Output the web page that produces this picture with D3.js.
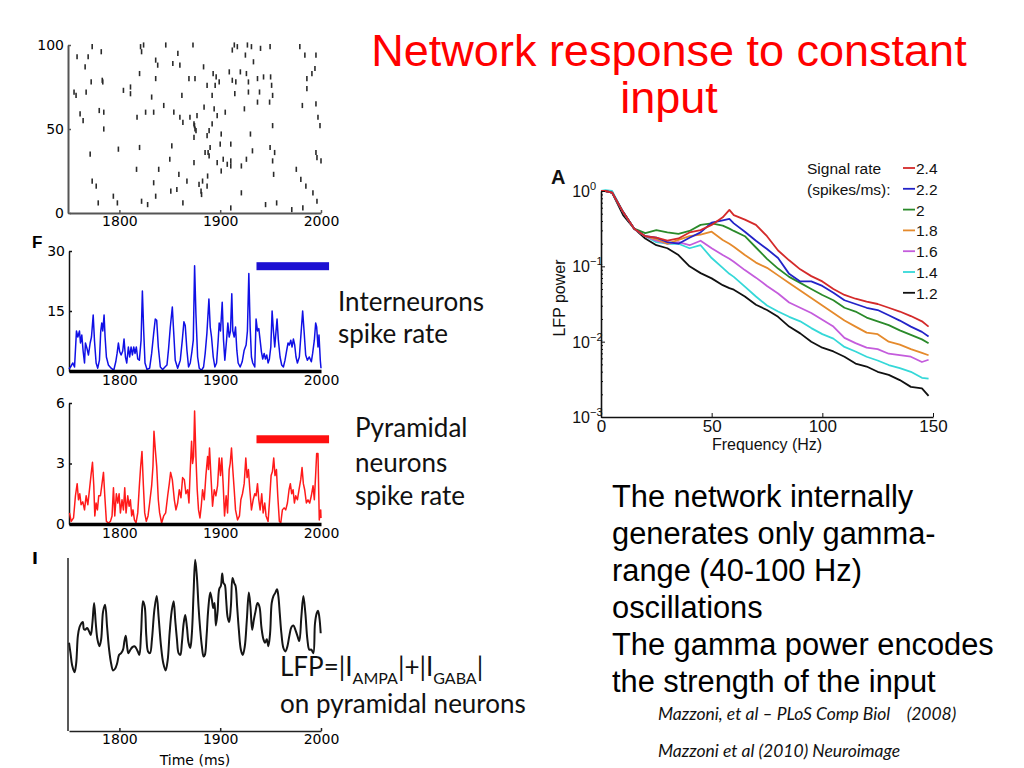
<!DOCTYPE html>
<html><head><meta charset="utf-8">
<script src="https://cdn.jsdelivr.net/npm/d3@7"></script>
<style>body{margin:0;background:#fff;} svg{display:block}</style>
</head><body><svg id="c" width="1024" height="768"></svg>
<script>
// ---------------- DATA ----------------
const timeTicks = [1800, 1900, 2000];
const rasterTicks = [0, 50, 100];
const interTicks = [0, 15, 30];
const pyrTicks = [0, 3, 6];

// raster spikes: [time ms, neuron index]
const spikes = [[1755,72],[1757,70],[1758,93],[1761,59],[1764,55],[1766,87],[1767,72],[1769,93],[1772,78],[1773,99],[1771,35],[1773,19],[1777,16],[1779,6],[1780,61],[1782,96],[1783,79],[1783.5,78],[1784.5,60],[1784.5,50],[1794,10],[1798,6],[1799,38],[1804,73],[1811,75],[1811,71],[1817.5,57],[1817,26],[1820,83],[1820,39],[1821,99],[1822,96],[1822,7],[1826,60],[1828,5],[1824,100],[1832,69],[1834,60],[1834,18],[1836,91],[1836,80],[1836,10],[1838,88],[1839,26],[1844,64],[1846,100],[1850,32],[1851,13],[1852,40],[1853,89],[1854,60],[1857,14],[1858,95],[1859,23],[1860,88],[1860,57],[1862,70],[1863,54],[1863,6],[1867,19],[1869,80],[1870,57],[1873,100],[1874,53],[1874.5,52],[1875,50],[1876,49],[1874,45],[1875,80],[1874,30],[1877,58],[1879,17],[1881,13],[1881.5,11],[1882.5,19],[1883.5,87],[1884,63],[1885,36],[1887,46],[1887,76],[1887.5,22],[1887,16],[1888,36],[1889,34],[1890,39],[1889,49],[1892,53],[1892,70],[1893,83],[1894,62],[1895,76],[1896,81],[1897,58],[1897,30],[1899,78],[1900,41],[1901,47],[1901,25],[1903,32],[1905,60],[1907,29],[1909,84],[1910.5,41],[1910.5,31],[1910.5,28],[1910.5,3],[1912,97],[1912,79],[1914,100],[1914.5,71],[1915.5,78],[1917,99],[1920,84],[1921,28],[1921,12],[1924,62],[1925,94],[1926,32],[1926,83],[1927,100],[1928,78],[1928,72],[1930,47],[1931,99],[1932,37],[1933,90],[1937,80],[1937,66],[1939,72],[1940,98],[1943,81],[1945,5],[1949,66],[1949.5,99],[1949.5,39],[1950,81],[1951,76],[1952,70],[1952,52],[1952,31],[1953,23],[1954,36],[1956,6],[1971,2],[1975.5,26],[1979,99],[1980,20],[1981.5,64],[1982,3],[1984,94],[1985,16],[1986,80],[1986,74],[1991,83],[1992,12],[1994,86],[1995,94],[1995,65],[1995,36],[1996,33],[1996,7],[1997,57],[1999,52],[2000,31]];

// interneuron spike rate: [time ms, rate]
const interRate = [[1750,0.5],[1751.5,1],[1753.8,2],[1755.5,1],[1757.4,10],[1758.8,8.5],[1760.4,10],[1761.4,7],[1762.7,9],[1764,5],[1765.4,2],[1766.3,7],[1768,5.5],[1769.3,4],[1771,7],[1772.3,8.5],[1774,14],[1775.3,7.5],[1776.9,2],[1778.5,0.7],[1780.2,2.7],[1781.5,10],[1782.5,12],[1783.5,10],[1784.8,14],[1785.8,8.5],[1787.1,3.5],[1789.1,1.5],[1791.8,0.7],[1794.4,0.2],[1796.4,2.3],[1797.7,4.4],[1799,7],[1800.3,4.8],[1801.7,4],[1803.3,5],[1804.6,8],[1806,3.5],[1807.3,2],[1808.9,6],[1810.2,3.5],[1811.6,6],[1812.9,4],[1814.2,6],[1815.5,4.4],[1816.8,6],[1818.2,3],[1819.8,2.7],[1821.5,7.7],[1822.8,20],[1824.1,10],[1825.4,2],[1827.4,0.4],[1830,0.7],[1832,4.4],[1834,9.4],[1835.6,13],[1837,12.7],[1838.6,6],[1840.6,1],[1842.9,0.4],[1845.2,1],[1847.2,1.5],[1848.8,5.6],[1850.5,11],[1852.5,16],[1853.8,10],[1855.4,2.7],[1857.8,0.7],[1860.4,2.7],[1862.4,7.7],[1864,12.3],[1865.3,11.4],[1867,5.2],[1868.6,1],[1870.3,2],[1871.9,4.8],[1873.3,7.7],[1874.6,26.3],[1875.9,14.3],[1877.6,3.5],[1879.2,0.7],[1881.5,0.2],[1883.5,1],[1885.1,4.4],[1886.8,9.4],[1888.8,18],[1890.1,11],[1891.4,8.5],[1893.1,3.5],[1894.7,1],[1896.4,2],[1898,7.7],[1899,12],[1900.3,10],[1902,17.2],[1903.3,7.7],[1904.6,2.7],[1906.3,7.7],[1907.6,12],[1908.9,8.5],[1910.2,10],[1911.5,19.3],[1912.5,10],[1913.9,8.5],[1915.2,11],[1916.5,5.2],[1917.8,2],[1919.8,1],[1921.8,2.3],[1923.8,5.2],[1925.7,6.5],[1927,10],[1928.4,24.4],[1929.7,11],[1931,3.5],[1932.3,2],[1934.3,1],[1935.6,13],[1937,10],[1938.3,10.6],[1939.6,7.7],[1940.9,4.8],[1942.2,3],[1943.6,4.4],[1944.9,3],[1946.2,4],[1947.5,2],[1948.8,3],[1950.2,6],[1951.5,15],[1952.8,10],[1954.1,6],[1955.4,10],[1956.4,13],[1957.7,7.7],[1959.4,3.5],[1961,1.5],[1962.7,1],[1964.3,2.7],[1966,5.2],[1967.3,7],[1968.6,6.5],[1970,7.7],[1971.3,6],[1972.6,8],[1973.9,6.5],[1975.2,3.5],[1976.6,2],[1978.5,3.5],[1980.2,9.4],[1981.8,15],[1983.2,10],[1984.8,4],[1986.5,2.7],[1988.4,3.5],[1990.4,2.3],[1991.7,4.4],[1993.4,7.7],[1994.7,12],[1995.7,11],[1997,6],[1998,9],[1999.3,2.7],[2000,0.7]];

// pyramidal spike rate: [time ms, rate]
const pyrRate = [[1750.5,0.55],[1752.2,0.13],[1754.5,0.3],[1756.4,1.4],[1758.1,2.0],[1759.4,1.2],[1760.7,1.5],[1762,0.96],[1763.7,1.1],[1765.4,0.7],[1767,1.4],[1768.7,0.96],[1770.3,1.7],[1772,2.5],[1773.3,3.06],[1774.6,1.9],[1775.6,0.4],[1776.9,1.04],[1778.2,0.7],[1779.5,1.4],[1781.2,1.4],[1782.5,1.9],[1784.2,2.56],[1785.5,1.4],[1787.1,0.13],[1789.1,0.05],[1791.1,0.13],[1792.7,0.4],[1794.1,1.8],[1795.4,0.4],[1797,1.5],[1798.4,1.04],[1799.7,1.5],[1801,0.55],[1802.6,1.2],[1804,0.7],[1805.3,1.8],[1806.6,0.55],[1808.3,1.4],[1809.6,0.88],[1810.9,1.2],[1812.2,0.4],[1813.5,0.7],[1814.9,0.2],[1816.5,0.05],[1818.2,0.55],[1819.8,1.9],[1821.1,2.86],[1822.4,3.6],[1823.8,1.9],[1825.1,0.55],[1826.7,0.13],[1828.4,0.4],[1830,1.04],[1832,1.9],[1833.3,2.86],[1834.3,4.6],[1835.6,3.7],[1837,2.86],[1838.6,1.2],[1839.9,0.55],[1841.9,0.05],[1843.9,0.4],[1845.9,0.55],[1847.9,1.4],[1849.5,2.0],[1850.8,2.56],[1852.5,2.2],[1854.5,1.2],[1856.1,0.7],[1857.8,1.04],[1859.4,1.7],[1861.1,1.3],[1862.7,2.3],[1864.4,2.2],[1866,1.5],[1867.7,1.7],[1869,1.04],[1870.3,2.7],[1871.6,4.1],[1872.6,3.0],[1873.6,3.35],[1874.6,5.6],[1875.9,3.35],[1877.2,1.7],[1878.5,0.7],[1879.9,0.3],[1881.2,0.88],[1882.5,1.7],[1884.2,1.2],[1885.8,2.4],[1887.5,3.35],[1888.4,2.7],[1889.4,3.77],[1890.8,2.4],[1892.4,0.88],[1894.1,1.7],[1895.7,1.4],[1897.4,1.9],[1899,3.27],[1900.3,2.4],[1901.6,3.27],[1903,1.9],[1904.3,0.4],[1905.9,1.4],[1907.3,0.55],[1908.9,2.7],[1909.9,3.0],[1911.2,3.77],[1912.5,2.7],[1913.9,1.7],[1915.2,0.7],[1917.2,0.2],[1919.1,0.4],[1920.5,1.2],[1922.1,1.5],[1923.8,2.0],[1925.4,3.27],[1926.7,2.3],[1928,2.7],[1929.4,1.7],[1931,0.7],[1932.7,1.2],[1934.3,1.5],[1935.6,1.4],[1937,2.0],[1938.3,1.2],[1939.6,0.7],[1941.2,1.5],[1942.6,0.55],[1944.2,1.04],[1945.5,0.4],[1947.5,0.13],[1948.8,1.04],[1950.5,2.4],[1951.8,2.6],[1953.1,3.27],[1954.4,2.4],[1955.8,2.7],[1957.1,1.4],[1958.7,0.13],[1960.1,0.05],[1961.7,0.7],[1963.4,0.8],[1965,0.7],[1966.7,1.04],[1968.3,1.7],[1969.6,2.0],[1970.9,1.5],[1972.3,1.7],[1973.6,1.04],[1974.9,1.4],[1976.6,1.2],[1978.2,1.7],[1979.9,2.2],[1981.2,2.8],[1982.5,2.0],[1983.8,1.7],[1985.5,1.04],[1987.1,1.2],[1988.8,1.04],[1990.4,1.4],[1992.1,1.9],[1993.4,1.2],[1994.7,2.45],[1995.7,3.5],[1997,3.5],[1998.3,0.2],[1999.7,0.7],[2000,0.3]];

// LFP trace (arbitrary units 0-10): [time ms, value]
const lfpTrace = [[1750,5.1],[1751.5,4.5],[1753.1,3.8],[1755.5,3.4],[1757.1,3.9],[1758.8,5.5],[1760.4,6.0],[1762,6.2],[1763.7,6.3],[1764.7,5.9],[1766,5.85],[1768,5.95],[1770,5.75],[1771.6,5.55],[1773.3,6.3],[1774.9,7.4],[1776.6,6.2],[1778.2,5.3],[1780.2,4.9],[1781.9,5.3],[1783.8,6.9],[1785.8,7.3],[1787.8,6.0],[1789.8,4.7],[1791.8,3.9],[1793.7,3.5],[1795.7,3.6],[1797.7,3.9],[1799.7,4.4],[1801.7,4.5],[1803.6,4.7],[1805,5.2],[1806.3,5.5],[1807.6,4.9],[1808.9,4.5],[1810.9,4.7],[1812.9,4.85],[1814.9,4.9],[1816.5,4.8],[1818.2,4.6],[1819.8,4.4],[1821.5,5.65],[1823.4,7.5],[1825.1,7.2],[1826.7,5.5],[1828.4,4.6],[1830.4,4.5],[1832.3,5.3],[1834.7,7.0],[1837,7.8],[1838.9,6.6],[1841.3,4.9],[1843.6,3.9],[1845.9,3.5],[1847.9,4.1],[1849.8,5.65],[1851.8,6.9],[1853.8,7.5],[1855.4,6.4],[1857.1,5.3],[1858.7,4.5],[1860.4,4.4],[1862,5.1],[1863.7,6.2],[1865.3,6.7],[1867,6.0],[1868.6,5.1],[1870.3,4.8],[1871.9,5.65],[1873.6,8.0],[1875.2,9.9],[1876.9,8.9],[1878.5,7.2],[1880.2,5.85],[1881.8,4.9],[1883.5,4.3],[1884.8,4.4],[1886.5,5.5],[1888.1,7.0],[1890.1,8.0],[1891.7,7.6],[1893.1,7.1],[1894.4,7.4],[1895.7,6.1],[1897.4,6.9],[1899,8.2],[1900.7,8.4],[1902,9.1],[1903.3,8.55],[1904.6,8.45],[1905.9,7.6],[1907.3,6.6],[1908.9,6.3],[1910.6,7.2],[1912.2,8.85],[1913.9,8.55],[1915.2,8.4],[1916.8,7.2],[1918.5,5.85],[1920.5,4.7],[1922.4,4.4],[1924.4,4.9],[1926.4,6.4],[1928.4,8.0],[1930,7.2],[1931.7,5.85],[1933.3,6.4],[1935,6.9],[1937,7.4],[1938.9,7.2],[1940.9,6.0],[1942.9,5.3],[1944.5,5.1],[1946.2,5.3],[1947.8,4.9],[1949.5,5.65],[1951.1,7.4],[1952.8,7.8],[1954.8,8.0],[1956.4,8.2],[1957.7,7.8],[1959.1,6.8],[1960.7,5.65],[1962.7,4.8],[1964.7,4.6],[1966.7,4.9],[1968.6,5.5],[1970.6,6.0],[1972.6,6.1],[1974.6,5.85],[1976.6,5.5],[1978.5,5.2],[1980.5,6.6],[1982.5,7.8],[1984.5,6.8],[1986.5,5.3],[1988.4,4.7],[1990.4,4.7],[1992.4,4.5],[1994,6.2],[1995.7,6.8],[1997,6.95],[1998.3,6.6],[1999.7,5.65]];

// LFP power spectrum
const frequencies = [0,2,5,10,15,20,25,30,35,40,45,50,55,58,60,65,70,75,80,85,90,95,100,105,110,115,120,125,130,135,140,145,148];
const signalRates = ["2.4","2.2","2","1.8","1.6","1.4","1.2"];
const seriesColors = ["#d42a2a","#2323c8","#2a8a2a","#e58a2c","#c45cdc","#35d8d8","#111111"];
// log10(LFP power) for each signal rate
const logPower24 = [0,0,-0.02,-0.28,-0.5,-0.6,-0.62,-0.66,-0.63,-0.55,-0.52,-0.45,-0.35,-0.25,-0.32,-0.38,-0.45,-0.6,-0.79,-0.92,-1.04,-1.13,-1.2,-1.3,-1.38,-1.43,-1.47,-1.5,-1.55,-1.6,-1.66,-1.73,-1.8];
const logPower22 = [0,0,-0.02,-0.28,-0.5,-0.6,-0.62,-0.68,-0.7,-0.62,-0.55,-0.42,-0.39,-0.37,-0.43,-0.54,-0.66,-0.77,-0.89,-1.1,-1.2,-1.2,-1.26,-1.35,-1.45,-1.5,-1.55,-1.58,-1.65,-1.72,-1.8,-1.87,-1.93];
const logPower20 = [0,0,-0.02,-0.28,-0.5,-0.56,-0.52,-0.55,-0.57,-0.53,-0.45,-0.43,-0.46,-0.5,-0.53,-0.6,-0.75,-0.9,-1.03,-1.14,-1.22,-1.3,-1.38,-1.45,-1.55,-1.6,-1.68,-1.73,-1.78,-1.85,-1.91,-1.97,-2.02];
const logPower18 = [0,0,-0.02,-0.28,-0.5,-0.6,-0.64,-0.7,-0.65,-0.6,-0.58,-0.54,-0.65,-0.7,-0.74,-0.85,-0.95,-1.02,-1.12,-1.22,-1.32,-1.42,-1.52,-1.62,-1.72,-1.8,-1.88,-1.9,-2.0,-2.04,-2.1,-2.15,-2.18];
const logPower16 = [0,0,-0.02,-0.28,-0.5,-0.6,-0.66,-0.7,-0.68,-0.72,-0.66,-0.76,-0.85,-0.9,-0.94,-1.05,-1.15,-1.26,-1.36,-1.48,-1.55,-1.62,-1.71,-1.8,-1.95,-2.02,-2.08,-2.1,-2.16,-2.18,-2.2,-2.27,-2.24];
const logPower14 = [0,0.01,0,-0.28,-0.5,-0.6,-0.68,-0.7,-0.7,-0.76,-0.72,-0.89,-1.02,-1.1,-1.14,-1.27,-1.4,-1.52,-1.6,-1.67,-1.73,-1.82,-1.9,-1.96,-2.07,-2.13,-2.2,-2.25,-2.31,-2.35,-2.4,-2.48,-2.49];
const logPower12 = [0,0,-0.02,-0.32,-0.5,-0.63,-0.72,-0.76,-0.85,-1.0,-1.09,-1.16,-1.25,-1.29,-1.31,-1.4,-1.51,-1.58,-1.67,-1.8,-1.89,-2.0,-2.08,-2.13,-2.2,-2.29,-2.33,-2.4,-2.44,-2.51,-2.6,-2.62,-2.72];
const freqTicks = [0,50,100,150];
const powerTicks = [1e-3,1e-2,1e-1,1];

// ---------------- DRAW ----------------
const svg = d3.select('#c');
const tickFont = "'DejaVu Sans', sans-serif";
const annFont = "Lato, 'Open Sans', sans-serif";
const intFmt = d3.format('d');
const x = d3.scaleLinear().domain([1750, 2000]).range([69, 321]);

function styleAxis(g, color, width) {
  g.select('.domain').attr('stroke', color).attr('stroke-width', width);
  g.selectAll('.tick line').attr('stroke', color).attr('stroke-width', 1.5);
  g.selectAll('.tick text').attr('fill', '#000').style('font-family', tickFont).style('font-size', '14px');
}

// Raster panel
const yR = d3.scaleLinear().domain([0, 100]).range([213, 45]);
svg.append('g').selectAll('line').data(spikes).join('line')
  .attr('x1', d => x(d[0])).attr('x2', d => x(d[0]))
  .attr('y1', d => yR(d[1]) - 2.6).attr('y2', d => yR(d[1]) + 2.6)
  .attr('stroke', '#2a2a2a').attr('stroke-width', 1.6);
svg.append('g').attr('transform', 'translate(68,0)')
  .call(d3.axisLeft(yR).tickValues(rasterTicks).tickFormat(intFmt).tickSize(-3).tickSizeOuter(0).tickPadding(4))
  .call(g => styleAxis(g, '#555', 2));
svg.append('g').attr('transform', 'translate(0,213)')
  .call(d3.axisBottom(x).tickValues(timeTicks).tickFormat(intFmt).tickSize(-3).tickSizeOuter(0).tickPadding(3))
  .call(g => styleAxis(g, '#555', 2));

// Generic rate panel
function ratePanel(data, yDom, yTop, yBot, ticks, color) {
  const y = d3.scaleLinear().domain(yDom).range([yBot, yTop]);
  svg.append('g').attr('transform', 'translate(69,0)')
    .call(d3.axisLeft(y).tickValues(ticks).tickFormat(intFmt).tickSize(-3).tickSizeOuter(0).tickPadding(4))
    .call(g => styleAxis(g, '#111', 1.5));
  svg.append('path').datum(data)
    .attr('d', d3.line().x(d => x(d[0])).y(d => y(d[1])))
    .attr('fill', 'none').attr('stroke', color).attr('stroke-width', 1.5).attr('stroke-linejoin', 'round');
  svg.append('g').attr('transform', `translate(0,${yBot})`)
    .call(d3.axisBottom(x).tickValues(timeTicks).tickFormat(intFmt).tickSize(0).tickSizeOuter(0).tickPadding(4))
    .call(g => styleAxis(g, '#000', 3.5));
  return y;
}
const yI = ratePanel(interRate, [0, 30], 251, 371, interTicks, '#1010e6');
const yP = ratePanel(pyrRate, [0, 6], 403, 524, pyrTicks, '#ff1a1a');

// Stimulus bars
svg.append('rect').attr('x', x(1936)).attr('width', x(2008) - x(1936)).attr('y', yI(27.2)).attr('height', 8).attr('fill', '#1c10d2');
svg.append('rect').attr('x', x(1936)).attr('width', x(2008) - x(1936)).attr('y', yP(4.4)).attr('height', 8).attr('fill', '#ff1010');

// LFP panel
const yL = d3.scaleLinear().domain([0, 10]).range([731, 558]);
svg.append('path').datum(lfpTrace)
  .attr('d', d3.line().x(d => x(d[0])).y(d => yL(d[1])).curve(d3.curveCatmullRom))
  .attr('fill', 'none').attr('stroke', '#151515').attr('stroke-width', 2);
svg.append('line').attr('x1', 68).attr('x2', 68).attr('y1', yL(10)).attr('y2', yL(0)).attr('stroke', '#222').attr('stroke-width', 1.5);
svg.append('g').attr('transform', 'translate(0,731)')
  .call(d3.axisBottom(x).tickValues(timeTicks).tickFormat(intFmt).tickSize(-3).tickSizeOuter(0).tickPadding(3))
  .call(g => styleAxis(g, '#222', 1.5));
svg.append('text').attr('x', x(1875)).attr('y', 765).attr('text-anchor', 'middle')
  .style('font-family', tickFont).style('font-size', '14px').text('Time (ms)');

// panel letters
svg.append('text').attr('x', 32).attr('y', 248).style('font-family', "'Liberation Sans', Arial").style('font-weight', 'bold').style('font-size', '17px').text('F');
svg.append('text').attr('x', 32).attr('y', 564).style('font-family', "'DejaVu Sans', sans-serif").style('font-weight', 'bold').style('font-size', '16px').text('I');

// annotations (left)
function ann(xp, yp, txt, size) {
  svg.append('text').attr('x', xp).attr('y', yp).style('font-family', annFont).style('font-size', (size || 26) + 'px').attr('fill', '#111').text(txt);
}
ann(338, 311, 'Interneurons');
ann(338, 343, 'spike rate');
ann(355, 437, 'Pyramidal');
ann(355, 472, 'neurons');
ann(355, 505, 'spike rate');
const f = svg.append('text').attr('x', 280).attr('y', 676).style('font-family', annFont).style('font-size', '26px').attr('fill', '#111');
f.append('tspan').text('LFP=|I');
f.append('tspan').attr('dy', 8).style('font-size', '16px').text('AMPA');
f.append('tspan').attr('dy', -8).text('|+|I');
f.append('tspan').attr('dy', 8).style('font-size', '16px').text('GABA');
f.append('tspan').attr('dy', -8).text('|');
ann(280, 713, 'on pyramidal neurons');

// Title
const titleFont = "'Liberation Sans', Arial, sans-serif";
svg.append('text').attr('x', 669).attr('y', 66).attr('text-anchor', 'middle').style('font-family', titleFont).style('font-size', '45px').attr('fill', '#ff0000').text('Network response to constant');
svg.append('text').attr('x', 669).attr('y', 113).attr('text-anchor', 'middle').style('font-family', titleFont).style('font-size', '45px').attr('fill', '#ff0000').text('input');

// Body text
const bodyLines = ['The network internally', 'generates only gamma-', 'range (40-100 Hz)', 'oscillations', 'The gamma power encodes', 'the strength of the input'];
svg.append('g').selectAll('text').data(bodyLines).join('text')
  .attr('x', 612).attr('y', (d, i) => 507 + i * 37)
  .style('font-family', titleFont).style('font-size', '30.8px').attr('fill', '#000').text(d => d);
svg.append('text').attr('x', 658).attr('y', 720).style('font-family', annFont).style('font-style', 'italic').style('font-size', '17.5px').attr('fill', '#111').attr('xml:space', 'preserve').text('Mazzoni, et al \u2013 PLoS Comp Biol    (2008)');
svg.append('text').attr('x', 658).attr('y', 757).style('font-family', annFont).style('font-style', 'italic').style('font-size', '17.5px').attr('fill', '#111').text('Mazzoni et al (2010) Neuroimage');

// Right: LFP power spectrum
const fx = d3.scaleLinear().domain([0, 150]).range([601, 933]);
const py = d3.scaleLog().domain([1e-3, 1]).range([417, 191]);
const allLog = [logPower24, logPower22, logPower20, logPower18, logPower16, logPower14, logPower12];
const line = d3.line().x(d => fx(d[0])).y(d => py(Math.pow(10, d[1])));
allLog.slice().reverse().forEach((arr, ri) => {
  const i = allLog.length - 1 - ri;
  svg.append('path').datum(frequencies.map((fr, k) => [fr, arr[k]]))
    .attr('d', line).attr('fill', 'none').attr('stroke', seriesColors[i]).attr('stroke-width', 1.8).attr('stroke-linejoin', 'round');
});
const rf = "'Liberation Sans', Arial, sans-serif";
const ya = svg.append('g').attr('transform', 'translate(601,0)')
  .call(d3.axisLeft(py).tickValues(py.ticks()).tickSize(-2).tickSizeOuter(0).tickFormat(''));
ya.select('.domain').attr('stroke', '#111').attr('stroke-width', 1.6);
ya.selectAll('.tick line').attr('stroke', '#111').attr('x2', d => powerTicks.includes(d) ? 4 : 2);
powerTicks.forEach(v => {
  svg.append('text').attr('x', 590).attr('y', py(v) + 6).attr('text-anchor', 'end').style('font-family', rf).style('font-size', '16px').attr('fill', '#111').text('10');
  svg.append('text').attr('x', 590).attr('y', py(v) - 1).style('font-family', rf).style('font-size', '11px').attr('fill', '#111').text(v === 1 ? '0' : '\u2212' + Math.round(-Math.log10(v)));
});
const xa = svg.append('g').attr('transform', 'translate(0,417)')
  .call(d3.axisBottom(fx).tickValues(freqTicks).tickSize(-4).tickSizeOuter(0).tickPadding(3));
xa.select('.domain').attr('stroke', '#111').attr('stroke-width', 1.6);
xa.selectAll('.tick line').attr('stroke', '#111');
xa.selectAll('.tick text').style('font-family', rf).style('font-size', '17px').attr('fill', '#111');
svg.append('text').attr('x', fx(75)).attr('y', 450).attr('text-anchor', 'middle').style('font-family', rf).style('font-size', '16px').attr('fill', '#111').text('Frequency (Hz)');
svg.append('text').attr('transform', 'translate(565,298) rotate(-90)').attr('text-anchor', 'middle').style('font-family', rf).style('font-size', '16px').attr('fill', '#111').text('LFP power');
svg.append('text').attr('x', 551).attr('y', 184).style('font-family', rf).style('font-weight', 'bold').style('font-size', '20px').attr('fill', '#111').text('A');

// legend
svg.append('text').attr('x', 807).attr('y', 174).style('font-family', rf).style('font-size', '15.5px').attr('fill', '#111').text('Signal rate');
svg.append('text').attr('x', 807).attr('y', 195).style('font-family', rf).style('font-size', '15.5px').attr('fill', '#111').text('(spikes/ms):');
const lg = svg.append('g').selectAll('g').data(signalRates).join('g')
  .attr('transform', (d, i) => `translate(0,${168 + i * 20.8})`);
lg.append('line').attr('x1', 903).attr('x2', 915).attr('stroke', (d, i) => seriesColors[i]).attr('stroke-width', 1.8);
lg.append('text').attr('x', 916).attr('y', 6).style('font-family', rf).style('font-size', '15.5px').attr('fill', '#111').text(d => d);
</script></body></html>
